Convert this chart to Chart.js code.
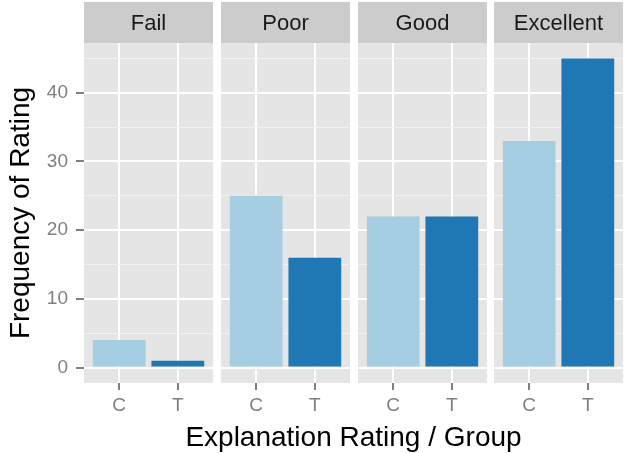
<!DOCTYPE html>
<html>
<head>
<meta charset="utf-8">
<script src="https://cdn.jsdelivr.net/npm/chart.js@4.4.1/dist/chart.umd.min.js"></script>
<style>
  body { margin: 0; background: #fff; font-family: "Liberation Sans", Arial, sans-serif; }
  #wrap { position: relative; width: 627px; height: 453px; overflow: hidden; }
  .panel { position: absolute; top: 0; height: 453px; }
  #xtitle { position: absolute; left: 84px; width: 539px; top: 423px; line-height: 28px;
            text-align: center; font-size: 28px; color: #000; white-space: nowrap; }
</style>
</head>
<body>
<div id="wrap">
  <div class="panel" style="left:0;width:213px"><canvas id="p0"></canvas></div>
  <div class="panel" style="left:221px;width:129px"><canvas id="p1"></canvas></div>
  <div class="panel" style="left:358px;width:129px"><canvas id="p2"></canvas></div>
  <div class="panel" style="left:494px;width:129px"><canvas id="p3"></canvas></div>
  <div id="xtitle">Explanation Rating / Group</div>
</div>
<script>
const ratings = ["Fail", "Poor", "Good", "Excellent"];
const groups = ["C", "T"];
const controlCounts = [4, 25, 22, 33];
const treatmentCounts = [1, 16, 22, 45];
const yTicks = [0, 10, 20, 30, 40];
const yMinorTicks = [5, 15, 25, 35, 45];

const font = '"Liberation Sans", Arial, sans-serif';
const colors = ["#a6cee3", "#1f78b4"];

// grey panel + strip on top with the facet label
const facetPlugin = {
  id: 'facet',
  beforeDraw(chart, args, opts) {
    const { ctx, chartArea: a } = chart;
    ctx.save();
    ctx.fillStyle = '#e5e5e5';
    ctx.fillRect(a.left, a.top, a.right - a.left, a.bottom - a.top);
    ctx.fillStyle = '#cccccc';
    ctx.fillRect(a.left, 2, a.right - a.left, a.top - 2);
    ctx.fillStyle = '#1a1a1a';
    ctx.font = '22px ' + font;
    ctx.textAlign = 'center';
    ctx.textBaseline = 'middle';
    ctx.fillText(opts.label, (a.left + a.right) / 2, (a.top + 2) / 2 + 1);
    ctx.restore();
  }
};

function makePanel(i) {
  const first = i === 0;
  const data = groups.map((g, j) => ({ x: j + 1, y: j === 0 ? controlCounts[i] : treatmentCounts[i] }));
  new Chart(document.getElementById('p' + i), {
    type: 'bar',
    data: {
      datasets: [{
        data: data,
        backgroundColor: colors,
        borderWidth: 0,
        barPercentage: 0.9,
        categoryPercentage: 1
      }]
    },
    plugins: [facetPlugin],
    options: {
      responsive: true,
      maintainAspectRatio: false,
      animation: false,
      layout: { padding: { top: 43, left: 0, right: 0, bottom: 0 } },
      plugins: {
        legend: { display: false },
        tooltip: { enabled: false },
        facet: { label: ratings[i] }
      },
      scales: {
        x: {
          type: 'linear',
          min: 0.4,
          max: 2.6,
          offset: false,
          afterBuildTicks: s => { s.ticks = groups.map((g, j) => ({ value: j + 1 })); },
          afterFit: s => { s.height = 70; },
          border: { display: false },
          grid: { offset: false, color: '#ffffff', lineWidth: 2, tickColor: '#7f7f7f', tickLength: 7, tickWidth: 2 },
          ticks: {
            callback: v => groups[v - 1],
            color: '#7f7f7f',
            font: { family: font, size: 19 },
            padding: 4,
            autoSkip: false,
            maxRotation: 0
          }
        },
        y: {
          min: -2.25,
          max: 47.25,
          afterBuildTicks: s => {
            s.ticks = yTicks.concat(yMinorTicks).sort((a, b) => a - b).map(v => ({ value: v }));
          },
          afterFit: s => { s.width = first ? 84 : 0; },
          border: { display: false },
          grid: {
            color: c => yTicks.includes(c.tick.value) ? '#ffffff' : '#f2f2f2',
            lineWidth: c => yTicks.includes(c.tick.value) ? 2 : 1,
            tickColor: c => yTicks.includes(c.tick.value) ? '#7f7f7f' : 'rgba(0,0,0,0)',
            drawTicks: first,
            tickLength: 8,
            tickWidth: 2
          },
          ticks: {
            display: first,
            callback: v => yTicks.includes(v) ? String(v) : '',
            color: '#7f7f7f',
            font: { family: font, size: 19 },
            padding: 8
          },
          title: {
            display: first,
            text: 'Frequency of Rating',
            color: '#000',
            font: { family: font, size: 28 },
            padding: { top: 4, bottom: 0 }
          }
        }
      }
    }
  });
}

ratings.forEach((r, i) => makePanel(i));
</script>
</body>
</html>
